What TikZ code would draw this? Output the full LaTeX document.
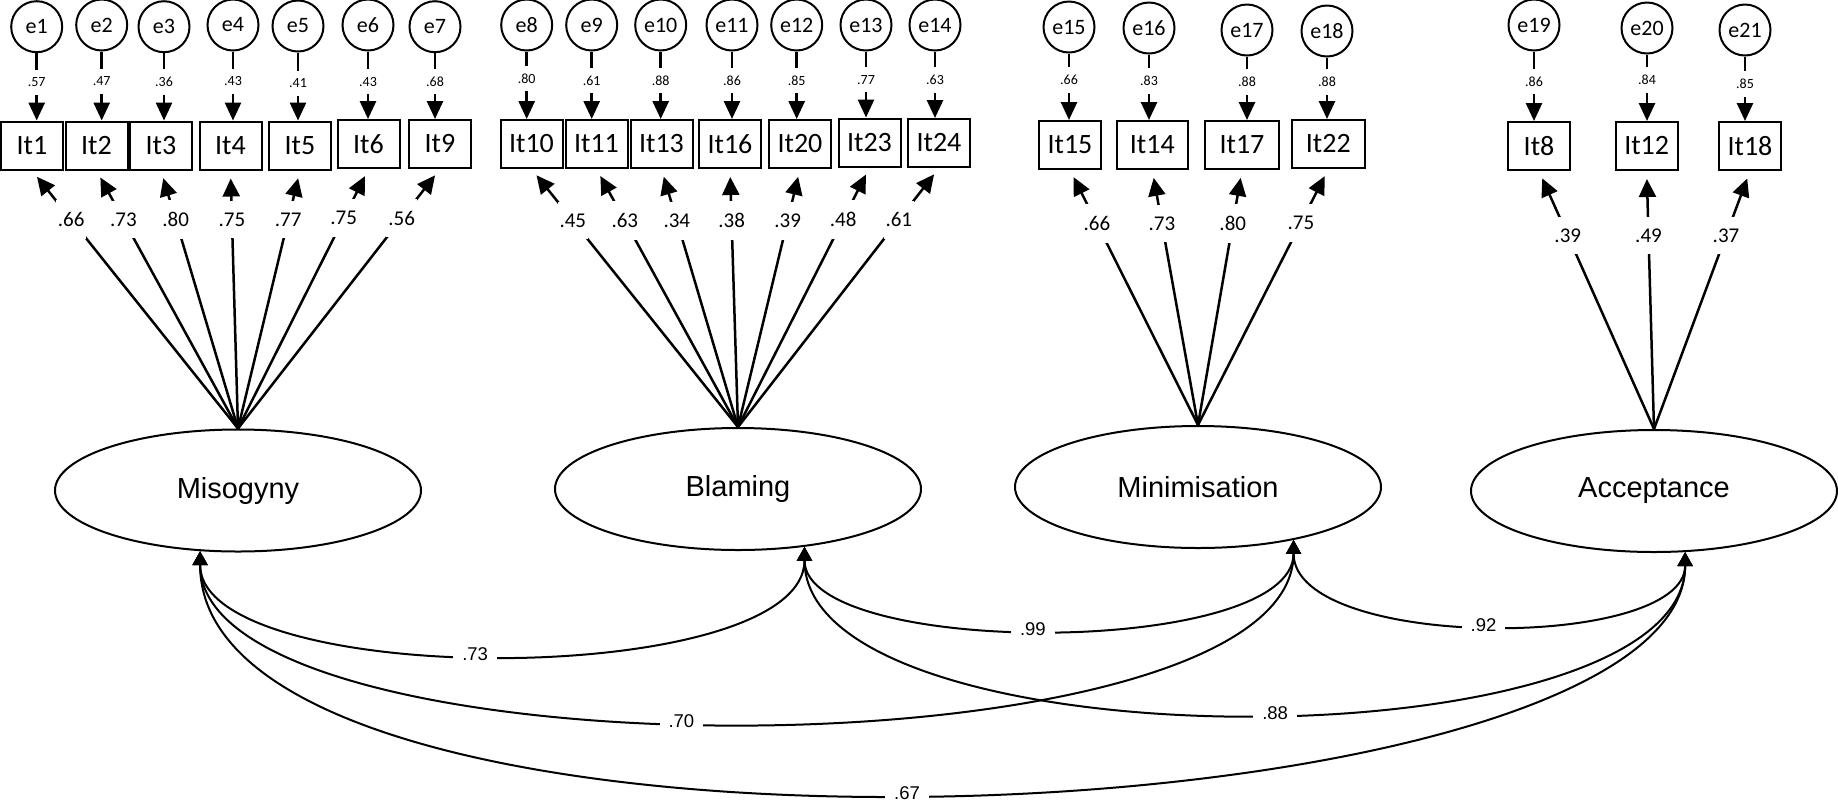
\documentclass[tikz,border=0pt]{standalone}
\usepackage{fontspec}
\setmainfont{Liberation Sans}
\newfontfamily\carl{Carlito}
\usetikzlibrary{arrows.meta,shapes.geometric}
\tikzset{
 errc/.style={circle, draw, line width=1pt, minimum size=25.5pt, inner sep=0pt, font=\carl\fontsize{11}{12}\selectfont},
 itbox/.style={rectangle, draw, line width=1pt, minimum height=24pt, minimum width=31pt, inner sep=0pt, font=\carl\fontsize{14}{15}\selectfont},
 factor/.style={ellipse, draw, line width=1pt, minimum width=183pt, minimum height=61pt, inner sep=0pt, font=\fontsize{14.5}{16}\selectfont},
 errarr/.style={-{Triangle[length=9pt,width=8pt]}, line width=1.4pt},
 loadarr/.style={-{Triangle[length=9pt,width=8.5pt]}, line width=1.25pt, shorten >=4pt},
 covarr/.style={{Triangle[length=7pt,width=7.5pt]}-{Triangle[length=7pt,width=7.5pt]}, line width=1pt},
 evlab/.style={fill=white, inner xsep=1pt, inner ysep=4pt, font=\carl\fontsize{7}{8}\selectfont},
 ldlab/.style={fill=white, inner xsep=1pt, inner ysep=6pt, font=\carl\fontsize{10.5}{12}\selectfont},
 cvlab/.style={fill=white, inner xsep=4.5pt, inner ysep=1pt, font=\fontsize{9.25}{10}\selectfont},
}
\begin{document}
\begin{tikzpicture}[x=0.5pt,y=-0.5pt]
\useasboundingbox (0,0) rectangle (1838,805);
% factors
\node[factor] (mis) at (238,490.5) {Misogyny};
\node[factor] (bla) at (738,489) {Blaming};
\node[factor] (mini) at (1198,487) {Minimisation};
\node[factor] (acc) at (1654,491) {Acceptance};
% Misogyny items
\node[errc] (e1) at (36.7,26.7) {e1};
\node[errc] (e2) at (101.7,25) {e2};
\node[errc] (e3) at (164,26.7) {e3};
\node[errc] (e4) at (233,25) {e4};
\node[errc] (e5) at (298,26) {e5};
\node[errc] (e6) at (368,25) {e6};
\node[errc] (e7) at (435,26.7) {e7};
\node[itbox] (It1) at (32,145.5) {It1};
\node[itbox] (It2) at (96.5,145.5) {It2};
\node[itbox] (It3) at (161,145.5) {It3};
\node[itbox] (It4) at (230.5,145.5) {It4};
\node[itbox] (It5) at (300,145.5) {It5};
\node[itbox] (It6) at (368.5,144) {It6};
\node[itbox] (It9) at (440,144) {It9};
% Blaming items
\node[errc] (e8) at (526.7,25) {e8};
\node[errc] (e9) at (591.7,25) {e9};
\node[errc] (e10) at (660.7,25) {e10};
\node[errc] (e11) at (732,25) {e11};
\node[errc] (e12) at (796.7,25) {e12};
\node[errc] (e13) at (866,25) {e13};
\node[errc] (e14) at (935,25) {e14};
\node[itbox] (It10) at (531.5,144) {It10};
\node[itbox] (It11) at (596.5,144) {It11};
\node[itbox] (It13) at (661.5,144) {It13};
\node[itbox] (It16) at (730,144) {It16};
\node[itbox] (It20) at (800,144) {It20};
\node[itbox] (It23) at (869.5,142.5) {It23};
\node[itbox] (It24) at (939,143) {It24};
% Minimisation items
\node[errc] (e15) at (1069,27) {e15};
\node[errc] (e16) at (1149,28) {e16};
\node[errc] (e17) at (1247,30) {e17};
\node[errc] (e18) at (1327,31) {e18};
\node[itbox] (It15) at (1070,145) {It15};
\node[itbox, minimum width=35.3pt] (It14) at (1152.3,145) {It14};
\node[itbox, minimum width=37.2pt] (It17) at (1242,145) {It17};
\node[itbox, minimum width=36.7pt] (It22) at (1328.3,144) {It22};
% Acceptance items
\node[errc] (e19) at (1534,25) {e19};
\node[errc] (e20) at (1647,28) {e20};
\node[errc] (e21) at (1745,30) {e21};
\node[itbox] (It8) at (1539,146) {It8};
\node[itbox] (It12) at (1646.7,146) {It12};
\node[itbox] (It18) at (1750,146) {It18};
% error arrows
\draw[errarr] (e1) -- (e1 |- It1.north) node[evlab,pos=.43] {.57};
\draw[errarr] (e2) -- (e2 |- It2.north) node[evlab,pos=.43] {.47};
\draw[errarr] (e3) -- (e3 |- It3.north) node[evlab,pos=.43] {.36};
\draw[errarr] (e4) -- (e4 |- It4.north) node[evlab,pos=.43] {.43};
\draw[errarr] (e5) -- (e5 |- It5.north) node[evlab,pos=.45] {.41};
\draw[errarr] (e6) -- (e6 |- It6.north) node[evlab,pos=.45] {.43};
\draw[errarr] (e7) -- (e7 |- It9.north) node[evlab,pos=.43] {.68};
\draw[errarr] (e8) -- (e8 |- It10.north) node[evlab,pos=.40] {.80};
\draw[errarr] (e9) -- (e9 |- It11.north) node[evlab,pos=.43] {.61};
\draw[errarr] (e10) -- (e10 |- It13.north) node[evlab,pos=.43] {.88};
\draw[errarr] (e11) -- (e11 |- It16.north) node[evlab,pos=.43] {.86};
\draw[errarr] (e12) -- (e12 |- It20.north) node[evlab,pos=.43] {.85};
\draw[errarr] (e13) -- (e13 |- It23.north) node[evlab,pos=.43] {.77};
\draw[errarr] (e14) -- (e14 |- It24.north) node[evlab,pos=.43] {.63};
\draw[errarr] (e15) -- (e15 |- It15.north) node[evlab,pos=.40] {.66};
\draw[errarr] (e16) -- (e16 |- It14.north) node[evlab,pos=.40] {.83};
\draw[errarr] (e17) -- (e17 |- It17.north) node[evlab,pos=.40] {.88};
\draw[errarr] (e18) -- (e18 |- It22.north) node[evlab,pos=.40] {.88};
\draw[errarr] (e19) -- (e19 |- It8.north) node[evlab,pos=.43] {.86};
\draw[errarr] (e20) -- (e20 |- It12.north) node[evlab,pos=.38] {.84};
\draw[errarr] (e21) -- (e21 |- It18.north) node[evlab,pos=.43] {.85};
% loadings
\draw[loadarr] (mis.north) -- (It1.south) node[ldlab,pos=.81] {.66};
\draw[loadarr] (mis.north) -- (It2.south) node[ldlab,pos=.81] {.73};
\draw[loadarr] (mis.north) -- (It3.south) node[ldlab,pos=.81] {.80};
\draw[loadarr] (mis.north) -- (It4.south) node[ldlab,pos=.81] {.75};
\draw[loadarr] (mis.north) -- (It5.south) node[ldlab,pos=.81] {.77};
\draw[loadarr] (mis.north) -- (It6.south) node[ldlab,pos=.81] {.75};
\draw[loadarr] (mis.north) -- (It9.south) node[ldlab,pos=.81] {.56};
\draw[loadarr] (bla.north) -- (It10.south) node[ldlab,pos=.80] {.45};
\draw[loadarr] (bla.north) -- (It11.south) node[ldlab,pos=.80] {.63};
\draw[loadarr] (bla.north) -- (It13.south) node[ldlab,pos=.80] {.34};
\draw[loadarr] (bla.north) -- (It16.south) node[ldlab,pos=.80] {.38};
\draw[loadarr] (bla.north) -- (It20.south) node[ldlab,pos=.80] {.39};
\draw[loadarr] (bla.north) -- (It23.south) node[ldlab,pos=.80] {.48};
\draw[loadarr] (bla.north) -- (It24.south) node[ldlab,pos=.80] {.61};
\draw[loadarr] (mini.north) -- (It15.south) node[ldlab,pos=.79] {.66};
\draw[loadarr] (mini.north) -- (It14.south) node[ldlab,pos=.79] {.73};
\draw[loadarr] (mini.north) -- (It17.south) node[ldlab,pos=.79] {.80};
\draw[loadarr] (mini.north) -- (It22.south) node[ldlab,pos=.79] {.75};
\draw[loadarr] (acc.north) -- (It8.south) node[ldlab,pos=.75] {.39};
\draw[loadarr] (acc.north) -- (It12.south) node[ldlab,pos=.75] {.49};
\draw[loadarr] (acc.north) -- (It18.south) node[ldlab,pos=.75] {.37};
% covariances
\draw[covarr] (mis.238) .. controls +(0,139) and +(0,143) .. (bla.319) node[cvlab,pos=.47] {.73};
\draw[covarr] (bla.319) .. controls +(0,111) and +(0,118) .. (mini.331) node[cvlab,pos=.478] {.99};
\draw[covarr] (mini.331) .. controls +(0,111) and +(0,99) .. (acc.297) node[cvlab,pos=.49] {.92};
\draw[covarr] (mis.238) .. controls +(0,230) and +(0,241) .. (mini.331) node[cvlab,pos=.46] {.70};
\draw[covarr] (bla.319) .. controls +(0,221) and +(0,216) .. (acc.297) node[cvlab,pos=.523] {.88};
\draw[covarr] (mis.238) .. controls +(0,352) and +(0,292) .. (acc.297) node[cvlab,pos=.484] {.67};
\end{tikzpicture}
\end{document}
